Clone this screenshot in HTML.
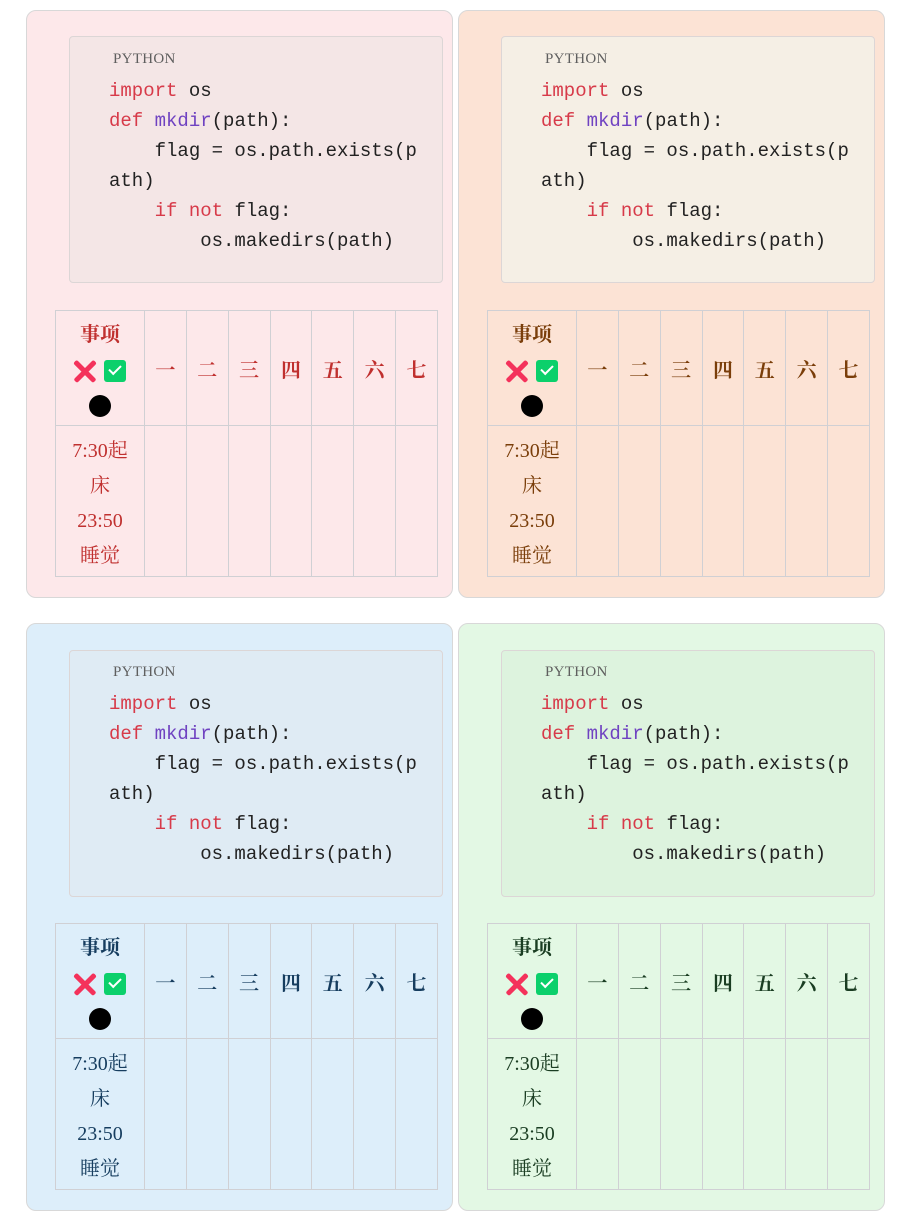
<!DOCTYPE html>
<html><head><meta charset="utf-8"><style>
body{margin:0;width:921px;height:1229px;background:#fff;position:relative;overflow:hidden}
.p{position:absolute;width:425px;height:586px;border:1px solid #d8d8d8;border-radius:10px;box-sizing:content-box}
.cb{position:absolute;left:42px;top:25px;width:372px;height:245px;border:1px solid #dcd6d6;border-radius:4px}
.lang{position:absolute;font:15px "Liberation Serif",serif;color:#5f5f5f;letter-spacing:0.3px}
.code{position:absolute;font:19px/30px "Liberation Mono",monospace;color:#222;white-space:pre;margin:0}
.k{color:#d73a49}.f{color:#6f42c1}
table{position:absolute;left:28px;top:299px;border-collapse:collapse;table-layout:fixed;width:383px;font-family:"Liberation Serif","Noto Serif CJK SC",serif}
td{border:1px solid #d0d0d4;padding:0;text-align:center;vertical-align:middle;overflow:hidden}
tr.h td{height:114px;font-weight:bold;font-size:20px}
tr.b td{height:150px}
td.c1{width:88px;font-size:20px}
.in{height:109px;line-height:35px;padding-top:4px;box-sizing:border-box;overflow:hidden}
.inb{height:150px;line-height:35px;padding-top:8px;box-sizing:border-box;overflow:hidden}
.x{display:inline-block;width:22px;height:22px;position:relative;vertical-align:middle}
.x:before,.x:after{content:"";position:absolute;left:-3px;top:9px;width:28px;height:4.5px;background:#f4325b;border-radius:2px;transform:rotate(45deg)}
.x:after{transform:rotate(-45deg)}
.ck{display:inline-block;width:22px;height:22px;background:#0bd06b;border-radius:3px;vertical-align:middle;margin-left:8px;position:relative}
.ck:after{content:"";position:absolute;left:5px;top:5px;width:10px;height:5px;border-left:2px solid #fff;border-bottom:2px solid #fff;transform:rotate(-45deg)}
.dot{display:inline-block;width:22px;height:22px;border-radius:50%;background:#000;vertical-align:middle}
</style></head><body>

<div class="p" style="left:26px;top:10px;background:#fde8ea">
<div class="cb" style="background:#f4e6e6"></div>
<div class="lang" style="left:86px;top:40px">PYTHON</div>
<pre class="code" style="left:82px;top:65px"><span class="k">import</span> os
<span class="k">def</span> <span class="f">mkdir</span>(path):
    flag = os.path.exists(p
ath)
    <span class="k">if</span> <span class="k">not</span> flag:
        os.makedirs(path)</pre>
<table style="color:#c0302f"><tr class="h"><td class="c1"><div class="in">事项<br><span class="x"></span><span class="ck"></span><br><span class="dot"></span></div></td><td>一</td><td>二</td><td>三</td><td>四</td><td>五</td><td>六</td><td>七</td></tr>
<tr class="b"><td class="c1"><div class="inb">7:30起<br>床<br>23:50<br>睡觉</div></td><td></td><td></td><td></td><td></td><td></td><td></td><td></td></tr></table>
</div>

<div class="p" style="left:458px;top:10px;background:#fce3d5">
<div class="cb" style="background:#f5efe5"></div>
<div class="lang" style="left:86px;top:40px">PYTHON</div>
<pre class="code" style="left:82px;top:65px"><span class="k">import</span> os
<span class="k">def</span> <span class="f">mkdir</span>(path):
    flag = os.path.exists(p
ath)
    <span class="k">if</span> <span class="k">not</span> flag:
        os.makedirs(path)</pre>
<table style="color:#7a3e0a"><tr class="h"><td class="c1"><div class="in">事项<br><span class="x"></span><span class="ck"></span><br><span class="dot"></span></div></td><td>一</td><td>二</td><td>三</td><td>四</td><td>五</td><td>六</td><td>七</td></tr>
<tr class="b"><td class="c1"><div class="inb">7:30起<br>床<br>23:50<br>睡觉</div></td><td></td><td></td><td></td><td></td><td></td><td></td><td></td></tr></table>
</div>

<div class="p" style="left:26px;top:623px;background:#ddeefa">
<div class="cb" style="top:26px;background:#dfebf4"></div>
<div class="lang" style="left:86px;top:40px">PYTHON</div>
<pre class="code" style="left:82px;top:65px"><span class="k">import</span> os
<span class="k">def</span> <span class="f">mkdir</span>(path):
    flag = os.path.exists(p
ath)
    <span class="k">if</span> <span class="k">not</span> flag:
        os.makedirs(path)</pre>
<table style="color:#163d5f"><tr class="h"><td class="c1"><div class="in">事项<br><span class="x"></span><span class="ck"></span><br><span class="dot"></span></div></td><td>一</td><td>二</td><td>三</td><td>四</td><td>五</td><td>六</td><td>七</td></tr>
<tr class="b"><td class="c1"><div class="inb">7:30起<br>床<br>23:50<br>睡觉</div></td><td></td><td></td><td></td><td></td><td></td><td></td><td></td></tr></table>
</div>

<div class="p" style="left:458px;top:623px;background:#e3f8e4">
<div class="cb" style="top:26px;background:#ddf3de"></div>
<div class="lang" style="left:86px;top:40px">PYTHON</div>
<pre class="code" style="left:82px;top:65px"><span class="k">import</span> os
<span class="k">def</span> <span class="f">mkdir</span>(path):
    flag = os.path.exists(p
ath)
    <span class="k">if</span> <span class="k">not</span> flag:
        os.makedirs(path)</pre>
<table style="color:#1a3d22"><tr class="h"><td class="c1"><div class="in">事项<br><span class="x"></span><span class="ck"></span><br><span class="dot"></span></div></td><td>一</td><td>二</td><td>三</td><td>四</td><td>五</td><td>六</td><td>七</td></tr>
<tr class="b"><td class="c1"><div class="inb">7:30起<br>床<br>23:50<br>睡觉</div></td><td></td><td></td><td></td><td></td><td></td><td></td><td></td></tr></table>
</div>

</body></html>
